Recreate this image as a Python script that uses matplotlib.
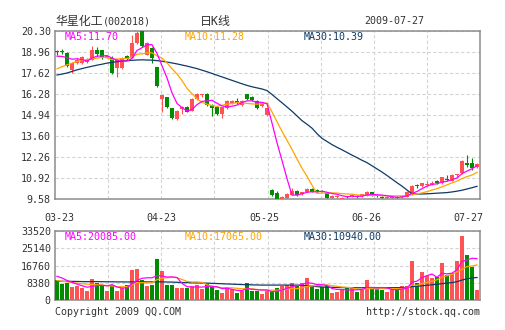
import numpy as np
import matplotlib.pyplot as plt

# 华星化工 002018, daily bars 2009-03-23 .. 2009-07-27
opens = [18.98, 19.02, 18.89, 17.83, 18.28, 18.26, 18.35, 18.47, 19.07, 19.07,
         18.65, 18.58, 17.94, 17.94, 18.68, 18.58, 19.53, 20.28, 18.79, 19.21,
         17.98, 15.98, 16.07, 15.37, 14.66, 15.30, 15.43, 15.21, 15.94, 16.20,
         16.28, 15.58, 15.43, 15.00, 15.37, 15.70, 15.85, 15.58, 16.28, 16.10,
         15.85, 15.50, 14.94, 10.15, 9.94, 9.60, 9.62, 9.85, 10.10, 9.90,
         10.05, 10.25, 10.18, 10.12, 9.95, 9.65, 9.70, 9.60, 9.75, 9.75,
         9.78, 9.75, 9.80, 10.00, 9.85, 9.73, 9.62, 9.65, 9.72, 9.68,
         9.73, 9.90, 10.45, 10.41, 10.45, 10.50, 10.75, 10.58, 10.85, 10.75,
         11.10, 11.22, 11.90, 11.90, 11.60]
highs = [19.10, 19.15, 18.95, 18.32, 18.60, 18.70, 18.55, 19.32, 19.25, 19.10,
         18.80, 18.70, 18.50, 18.65, 18.75, 20.06, 20.30, 20.30, 19.60, 19.30,
         18.00, 16.23, 16.10, 15.40, 15.25, 15.50, 15.50, 16.00, 16.35, 16.30,
         16.35, 15.62, 15.48, 15.48, 15.90, 15.90, 16.00, 15.90, 16.30, 16.15,
         15.90, 15.75, 15.40, 10.20, 10.10, 9.75, 9.95, 10.30, 10.15, 10.05,
         10.25, 10.30, 10.22, 10.18, 10.00, 9.85, 9.85, 9.70, 9.80, 9.90,
         9.82, 9.92, 10.10, 10.05, 9.90, 9.78, 9.75, 9.80, 9.75, 9.82,
         10.10, 10.45, 10.55, 10.62, 10.70, 10.75, 10.80, 11.00, 11.10, 11.15,
         11.20, 12.05, 12.39, 12.20, 11.90]
lows = [18.80, 18.85, 17.98, 17.62, 18.20, 18.20, 18.25, 18.45, 18.70, 18.50,
        18.58, 17.58, 17.35, 17.90, 18.45, 18.55, 19.45, 19.25, 18.75, 18.26,
        16.75, 15.15, 15.40, 14.68, 14.60, 15.00, 15.10, 15.18, 15.90, 16.10,
        15.50, 14.90, 14.95, 14.74, 15.30, 15.65, 15.65, 15.50, 15.90, 15.85,
        15.30, 15.45, 14.90, 9.75, 9.58, 9.58, 9.60, 9.82, 9.80, 9.85,
        10.00, 10.00, 10.00, 10.00, 9.60, 9.60, 9.65, 9.58, 9.65, 9.70,
        9.65, 9.70, 9.75, 9.80, 9.70, 9.58, 9.58, 9.60, 9.58, 9.62,
        9.70, 9.85, 10.30, 10.35, 10.40, 10.45, 10.55, 10.55, 10.70, 10.70,
        11.00, 11.18, 11.60, 11.40, 11.55]
closes = [18.93, 18.98, 18.05, 18.26, 18.45, 18.62, 18.45, 19.10, 18.82, 18.58,
          18.72, 17.62, 18.47, 18.58, 18.53, 19.53, 20.17, 19.32, 19.53, 18.58,
          16.77, 16.20, 15.47, 14.73, 15.21, 15.43, 15.15, 15.94, 16.28, 16.23,
          15.58, 15.37, 15.00, 15.43, 15.85, 15.85, 15.70, 15.85, 15.94, 15.90,
          15.37, 15.70, 15.37, 9.83, 9.60, 9.72, 9.90, 10.10, 9.85, 10.00,
          10.20, 10.05, 10.10, 10.05, 9.65, 9.80, 9.80, 9.65, 9.70, 9.85,
          9.72, 9.88, 10.05, 9.85, 9.75, 9.62, 9.70, 9.75, 9.65, 9.78,
          10.05, 10.41, 10.40, 10.58, 10.55, 10.62, 10.60, 10.96, 10.80, 11.11,
          11.12, 12.02, 11.75, 11.54, 11.81]
volumes = [9860, 7770, 8260, 6150, 6640, 5830, 4210, 10200, 8260, 7130,
           4540, 7130, 4540, 5830, 7450, 14570, 15060, 9860, 6960, 7450,
           19920, 13930, 7450, 7450, 5830, 5830, 5830, 6640, 7450, 5500,
           7770, 6150, 5020, 3400, 6150, 5340, 3400, 4540, 8260, 4540,
           4210, 2910, 4540, 4050, 5670, 6800, 7290, 8420, 6800, 8420,
           10850, 6150, 5180, 6480, 6800, 3240, 4050, 4860, 5670, 6150,
           4050, 4860, 9716, 5670, 5180, 4860, 4050, 5670, 5180, 6800,
           6800, 18950, 8100, 13770, 11660, 10530, 11010, 18140, 12150, 13280,
           18950, 31090, 21860, 16190, 4860]

ma5 = [18.69, 18.68, 18.60, 18.50, 18.53, 18.47, 18.37, 18.58, 18.69, 18.71,
       18.73, 18.57, 18.44, 18.39, 18.38, 18.55, 19.06, 19.23, 19.42, 19.43,
       18.87, 18.08, 17.31, 16.35, 15.68, 15.41, 15.20, 15.29, 15.60, 15.81,
       15.84, 15.88, 15.69, 15.52, 15.45, 15.50, 15.57, 15.74, 15.84, 15.85,
       15.75, 15.75, 15.66, 14.43, 13.17, 12.04, 10.88, 9.83, 9.83, 9.91,
       10.01, 10.04, 10.04, 10.08, 10.01, 9.93, 9.88, 9.79, 9.72, 9.76,
       9.74, 9.76, 9.84, 9.87, 9.85, 9.83, 9.79, 9.73, 9.69, 9.70,
       9.79, 9.93, 10.06, 10.24, 10.40, 10.51, 10.55, 10.66, 10.71, 10.82,
       10.92, 11.20, 11.36, 11.51, 11.70]
ma10 = [17.89, 18.02, 18.14, 18.25, 18.35, 18.42, 18.48, 18.53, 18.57, 18.62,
        18.60, 18.47, 18.51, 18.54, 18.55, 18.64, 18.82, 18.84, 18.91, 18.91,
        18.71, 18.57, 18.27, 17.89, 17.56, 17.14, 16.64, 16.30, 15.98, 15.75,
        15.63, 15.54, 15.49, 15.56, 15.63, 15.67, 15.73, 15.72, 15.68, 15.65,
        15.63, 15.66, 15.70, 15.14, 14.51, 13.90, 13.32, 12.75, 12.13, 11.54,
        11.03, 10.46, 9.94, 9.96, 9.96, 9.97, 9.96, 9.92, 9.90, 9.89,
        9.84, 9.82, 9.82, 9.80, 9.81, 9.79, 9.78, 9.79, 9.78, 9.78,
        9.81, 9.86, 9.90, 9.97, 10.05, 10.15, 10.24, 10.36, 10.48, 10.61,
        10.72, 10.88, 11.01, 11.11, 11.28]
ma30 = [17.49, 17.55, 17.62, 17.72, 17.82, 17.90, 17.98, 18.05, 18.12, 18.18,
        18.25, 18.30, 18.34, 18.38, 18.41, 18.43, 18.45, 18.46, 18.45, 18.44,
        18.41, 18.37, 18.32, 18.26, 18.20, 18.13, 18.06, 17.98, 17.90, 17.80,
        17.70, 17.59, 17.48, 17.37, 17.26, 17.15, 17.04, 16.93, 16.83, 16.74,
        16.67, 16.60, 16.50, 16.25, 15.98, 15.72, 15.45, 15.18, 14.88, 14.58,
        14.35, 14.10, 13.75, 13.45, 13.25, 13.05, 12.88, 12.72, 12.55, 12.38,
        12.22, 12.05, 11.90, 11.70, 11.50, 11.30, 11.08, 10.85, 10.62, 10.40,
        10.15, 9.92, 9.90, 9.90, 9.91, 9.93, 9.95, 9.97, 9.99, 10.03,
        10.08, 10.14, 10.22, 10.30, 10.39]

vol_ma5 = [11500, 10700, 9500, 8600, 7736, 6930, 6218, 6606, 7028, 7126,
           6868, 7452, 6320, 5834, 5898, 7904, 9490, 10554, 10780, 10780,
           11850, 11624, 11142, 11240, 10916, 8098, 6478, 6316, 6316, 6250,
           6638, 6702, 6378, 5568, 5698, 5212, 4662, 4566, 5538, 5216,
           4990, 4892, 4892, 4050, 4276, 4794, 5670, 6446, 6996, 7546,
           8356, 8128, 7480, 7416, 7092, 5570, 5150, 5086, 4924, 4794,
           4956, 5118, 6089, 6089, 5895, 6057, 5895, 5086, 4988, 5312,
           5700, 8680, 9166, 10884, 11856, 12602, 11014, 13022, 12698, 13022,
           14706, 18722, 19466, 20274, 20085]
vol_ma10 = [9400, 9100, 8800, 8500, 8200, 7900, 7700, 7500, 7400, 7431,
            6899, 6835, 6463, 6431, 6512, 7386, 8471, 8437, 8307, 8339,
            9877, 10557, 10848, 11010, 10848, 9974, 9051, 8729, 8778, 8583,
            7368, 6590, 6347, 5942, 5974, 5925, 5682, 5472, 5553, 5457,
            5101, 4777, 4729, 4794, 4746, 4892, 5281, 5669, 5523, 5911,
            6575, 6899, 6963, 7206, 7319, 6963, 6639, 6283, 6170, 5943,
            5263, 5134, 5588, 5507, 5345, 5507, 5507, 5588, 5539, 5604,
            5879, 7288, 7126, 7936, 8584, 9151, 9847, 11094, 11791, 12439,
            13654, 14868, 16244, 16486, 17065]
vol_ma30 = [9080, 9080, 9050, 9050, 9000, 8950, 8900, 8950, 8950, 8900,
            8850, 8850, 8800, 8800, 8750, 8800, 8850, 8850, 8800, 8800,
            8850, 8800, 8750, 8700, 8600, 8500, 8450, 8350, 8300, 8250,
            8200, 8100, 8000, 7900, 7800, 7700, 7600, 7500, 7450, 7350,
            7300, 7250, 7250, 7250, 7250, 7250, 7250, 7250, 7200, 7100,
            6900, 6700, 6500, 6300, 6200, 6150, 6100, 6050, 6000, 6000,
            5950, 5950, 6000, 6000, 5950, 5950, 5950, 6000, 6000, 6050,
            6100, 6500, 6650, 6900, 7150, 7400, 7650, 7950, 8200, 8450,
            8900, 9700, 10300, 10700, 10940]

price_ticks = [9.58, 10.92, 12.26, 13.60, 14.94, 16.28, 17.62, 18.96, 20.30]
vol_ticks = [0, 8380, 16760, 25140, 33520]
date_labels = ["03-23", "04-23", "05-25", "06-26", "07-27"]
date_pos = [0.5, 20.9, 41.4, 61.8, 82.3]

RED = "#ff5252"
GREEN = "#008c00"
C_MA5 = "#ff00ff"
C_MA10 = "#ffa500"
C_MA30 = "#0e3a66"
GRID = "#d4d4d4"
SPINE = "#8c8c8c"
TXT = "#333333"
MONO = "DejaVu Sans Mono"
CJK = ["DejaVu Sans Mono", "Noto Sans CJK SC"]

W, H = 505, 330
fig = plt.figure(figsize=(W / 100, H / 100), dpi=100)
fig.patch.set_facecolor("white")


def fpos(x, y):
    return x / W, 1 - y / H


def style_axes(ax):
    for s in ax.spines.values():
        s.set_color(SPINE)
        s.set_linewidth(1.1)
    ax.tick_params(length=0, labelsize=7.2, labelcolor=TXT)
    for lab in ax.get_yticklabels() + ax.get_xticklabels():
        lab.set_family(MONO)
    grid_x = [-0.4 + 85 / 8 * k for k in range(1, 8)]
    ax.set_xticks(grid_x, minor=True)
    ax.tick_params(which="minor", length=0)
    ax.grid(True, which="minor", axis="x", color=GRID, lw=0.8, ls=(0, (3, 2)))
    ax.grid(True, which="major", axis="y", color=GRID, lw=0.8, ls=(0, (3, 2)))
    ax.set_axisbelow(True)


x = np.arange(len(closes))
o = np.array(opens)
c = np.array(closes)
colors = np.where(c >= o, RED, GREEN)

# price panel
ax = fig.add_axes([55 / W, 1 - 199 / H, 425 / W, 168 / H])
ax.set_xlim(-0.4, 84.6)
ax.set_ylim(price_ticks[0], price_ticks[-1])
ax.set_yticks(price_ticks)
ax.set_yticklabels(["%.2f" % t for t in price_ticks])
ax.set_xticks(date_pos)
ax.set_xticklabels(date_labels)
style_axes(ax)
ax.tick_params(axis="x", pad=10)
ax.tick_params(axis="y", pad=3)

ax.vlines(x, lows, highs, colors=colors, lw=0.8, zorder=2)
body_h = np.maximum(np.abs(c - o), 0.065)
ax.bar(x, body_h, bottom=np.minimum(o, c), width=0.8, color=colors, lw=0, zorder=3)
ax.plot(x, ma30, color=C_MA30, lw=0.9, zorder=4)
ax.plot(x, ma10, color=C_MA10, lw=0.9, zorder=4)
ax.plot(x, ma5, color=C_MA5, lw=0.9, zorder=4)

# volume panel
vx = fig.add_axes([55 / W, 1 - 300 / H, 425 / W, 69 / H])
vx.set_xlim(-0.4, 84.6)
vx.set_ylim(vol_ticks[0], vol_ticks[-1])
vx.set_yticks(vol_ticks)
vx.set_yticklabels([str(t) for t in vol_ticks])
vx.set_xticks([])
style_axes(vx)
vx.tick_params(axis="y", pad=3)

vx.bar(x, volumes, width=0.8, color=colors, lw=0, zorder=3)
vx.plot(x, vol_ma30, color=C_MA30, lw=0.9, zorder=4)
vx.plot(x, vol_ma10, color=C_MA10, lw=0.9, zorder=4)
vx.plot(x, vol_ma5, color=C_MA5, lw=0.9, zorder=4)

# header
fig.text(*fpos(55, 21), "华星化工", family=CJK, fontsize=8.6, color=TXT, va="center")
fig.text(*fpos(103, 21), "(002018)", family=MONO, fontsize=7.2, color=TXT, va="center")
fig.text(*fpos(200, 21), "日K线", family=CJK, fontsize=8.6, color=TXT, va="center")
fig.text(*fpos(364, 21), "2009-07-27", family=MONO, fontsize=7.2, color=TXT, va="center")

# moving average captions
fig.text(*fpos(65, 37), "MA5:%.2f" % ma5[-1], family=MONO, fontsize=7.2, color=C_MA5, va="center")
fig.text(*fpos(185, 37), "MA10:%.2f" % ma10[-1], family=MONO, fontsize=7.2, color=C_MA10, va="center")
fig.text(*fpos(304, 37), "MA30:%.2f" % ma30[-1], family=MONO, fontsize=7.2, color=C_MA30, va="center")
fig.text(*fpos(65, 237), "MA5:%.2f" % vol_ma5[-1], family=MONO, fontsize=7.2, color=C_MA5, va="center")
fig.text(*fpos(185, 237), "MA10:%.2f" % vol_ma10[-1], family=MONO, fontsize=7.2, color=C_MA10, va="center")
fig.text(*fpos(304, 237), "MA30:%.2f" % vol_ma30[-1], family=MONO, fontsize=7.2, color=C_MA30, va="center")

# footer
fig.text(*fpos(55, 312), "Copyright 2009 QQ.COM", family=MONO, fontsize=7.2, color=TXT, va="center")
fig.text(*fpos(480, 312), "http://stock.qq.com", family=MONO, fontsize=7.2, color=TXT, va="center", ha="right")

fig.savefig("out.png", dpi=100)
